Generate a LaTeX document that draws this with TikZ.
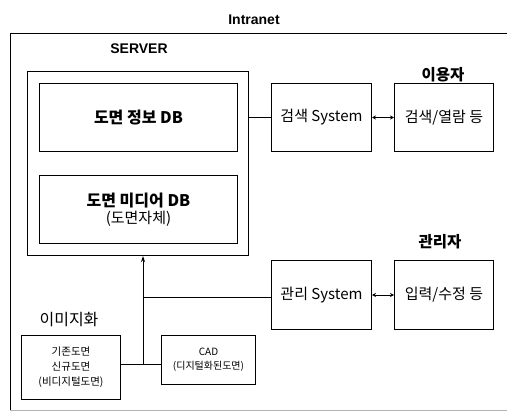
\documentclass[tikz,border=0pt]{standalone}
\usepackage{fontspec}
\setmainfont{Noto Sans CJK KR}
\setsansfont{Liberation Sans}
\usetikzlibrary{arrows.meta}
\begin{document}
\begin{tikzpicture}[x=1pt,y=-1pt,
  box/.style={draw, line width=1pt, inner sep=0pt, anchor=north west},
  lbl/.style={inner sep=0pt, font=\fontsize{15}{17}\selectfont},
  hdr/.style={inner sep=0pt, font=\bfseries\fontsize{15.5}{17}\selectfont},
  conn/.style={line width=1pt},
  dbl/.style={line width=1pt, {Stealth[length=4pt,width=4pt]}-{Stealth[length=4pt,width=4pt]}}]
\useasboundingbox (0,0) rectangle (507,412);
% outer intranet frame
\coordinate (otl) at (10,33);
\coordinate (otr) at (507,33);
\coordinate (obl) at (10,410);
\coordinate (obr) at (507,410);
\draw[line width=0.8pt] (otr) -- (otl) -- (obl);
\draw[line width=1pt, gray!60] (obl) -- (obr);
\node[inner sep=0pt, font=\sffamily\bfseries\fontsize{14}{16}\selectfont] (intranet) at (254,20) {Intranet};
% server
\node[box, minimum width=221pt, minimum height=184pt] (server) at (27,71) {};
\node[inner sep=0pt, font=\sffamily\bfseries\fontsize{14}{16}\selectfont] (serverlbl) at (139,49) {SERVER};
\node[box, minimum width=198pt, minimum height=68pt] (infodb) at (39,83) {};
\node[inner sep=0pt, font=\bfseries\fontsize{16}{18}\selectfont] at (infodb.center) {도면 정보 DB};
\node[box, minimum width=198pt, minimum height=68pt] (mediadb) at (39,175) {};
\node[inner sep=0pt, align=center, font=\fontsize{15}{17}\selectfont] at (mediadb.center) {\textbf{\fontsize{16}{17}\selectfont 도면 미디어 DB}\\(도면자체)};
% search
\node[box, minimum width=100pt, minimum height=68pt] (search) at (271,83) {};
\node[lbl] at (search.center) {검색 System};
\node[box, minimum width=99pt, minimum height=68pt] (user) at (394,83) {};
\node[lbl] at (user.center) {검색/열람 등};
\node[hdr] (userlbl) at (443,75) {이용자};
% admin
\node[box, minimum width=100pt, minimum height=69pt] (admin) at (271,260) {};
\node[lbl] at (admin.center) {관리 System};
\node[box, minimum width=99pt, minimum height=69pt] (edit) at (394,260) {};
\node[lbl] at (edit.center) {입력/수정 등};
\node[hdr] (adminlbl) at (440,242) {관리자};
% image sources
\node[inner sep=0pt, font=\fontsize{16}{18}\selectfont] (imglbl) at (69,320) {이미지화};
\node[box, minimum width=99pt, minimum height=64pt] (paper) at (21,335) {};
\node[inner sep=0pt, align=center, font=\fontsize{10.5}{15}\selectfont] at (paper.center) {기존도면\\신규도면\\(비디지털도면)};
\node[box, minimum width=94pt, minimum height=49pt] (cad) at (161,335) {};
\node[inner sep=0pt, align=center, font=\fontsize{10}{14}\selectfont] at (cad.center) {CAD\\(디지털화된도면)};
% connectors
\coordinate (junc) at (143,364);
\coordinate (tee) at (143,297);
\draw[conn] (paper.east |- junc) -- (cad.west |- junc);
\draw[conn, -{Stealth[length=6pt,width=4pt]}] (junc) -- (junc |- server.south);
\draw[conn] (tee) -- (admin.west |- tee);
\draw[conn] (server.east |- search.west) -- (search.west);
\draw[dbl] (search.east) -- (user.west);
\draw[dbl] (admin.east) -- (edit.west);
\end{tikzpicture}
\end{document}
